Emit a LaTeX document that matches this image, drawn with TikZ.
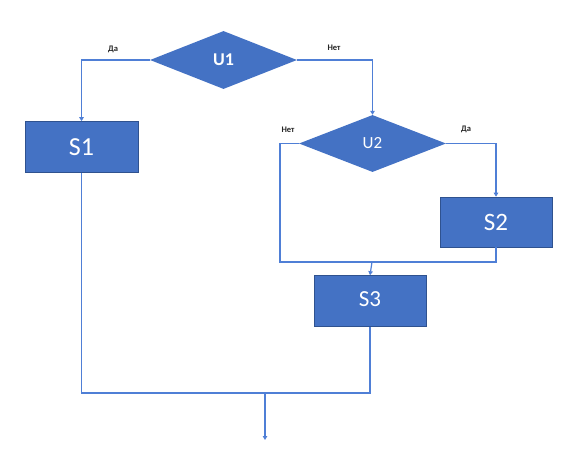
\documentclass[tikz,border=0pt]{standalone}
\usepackage{fontspec}
\setmainfont{Carlito}
\usetikzlibrary{shapes.geometric,arrows.meta}
\definecolor{boxfill}{HTML}{4472C4}
\definecolor{boxline}{HTML}{2F528F}
\definecolor{conn}{HTML}{4F7FD6}
\tikzset{
  stepbox/.style={rectangle,draw=boxline,line width=0.6pt,fill=boxfill,text=white,inner sep=0pt},
  decide/.style={diamond,fill=boxfill,draw=none,text=white,inner sep=0pt,aspect=2.5},
  link/.style={draw=conn,line width=1.2pt},
  arr/.style={link,-{Triangle[length=4pt,width=4.5pt]}},
  lbl/.style={font=\bfseries\fontsize{8.5}{9}\selectfont,text=black!85,inner sep=0pt}
}
\begin{document}
\begin{tikzpicture}[x=1pt,y=-1pt]
\useasboundingbox (0,0) rectangle (585,452);
% nodes
\node[decide,minimum width=147pt,minimum height=58pt,font=\bfseries\fontsize{18}{20}\selectfont] (u1) at (223.5,60) {U1};
\node[decide,minimum width=147pt,minimum height=57pt,font=\fontsize{17}{19}\selectfont] (u2) at (372.5,143.5) {U2};
\node[stepbox,minimum width=113pt,minimum height=51pt,font=\fontsize{26}{28}\selectfont] (s1) at (81.5,147) {S1};
\node[stepbox,minimum width=112pt,minimum height=50pt,font=\fontsize{25}{27}\selectfont] (s2) at (496,222) {S2};
\node[stepbox,minimum width=112pt,minimum height=51pt,font=\fontsize{23}{25}\selectfont] (s3) at (370,301) {\raisebox{3pt}{S3}};
% helper coordinates
\coordinate (m1) at (372,262);
\coordinate (m2) at (265,393);
\coordinate (endpt) at (265,440);
% connectors
\draw[arr] (u1.west) -| (s1.north);
\draw[arr] (u1.east) -| (u2.north);
\draw[arr] (u2.east) -| (s2.north);
\draw[link] (u2.west) -| (280,262) -- (m1);
\draw[link] (s2.south) |- (m1);
\draw[arr] (m1) -- (s3.north);
\draw[link] (s1.south) |- (m2);
\draw[link] (s3.south) |- (m2);
\draw[arr] (m2) -- (endpt);
% labels
\node[lbl] (l1) at (113,49) {Да};
\node[lbl] (l2) at (334,48) {Нет};
\node[lbl] (l3) at (288,130) {Нет};
\node[lbl] (l4) at (466,129) {Да};
\end{tikzpicture}
\end{document}
